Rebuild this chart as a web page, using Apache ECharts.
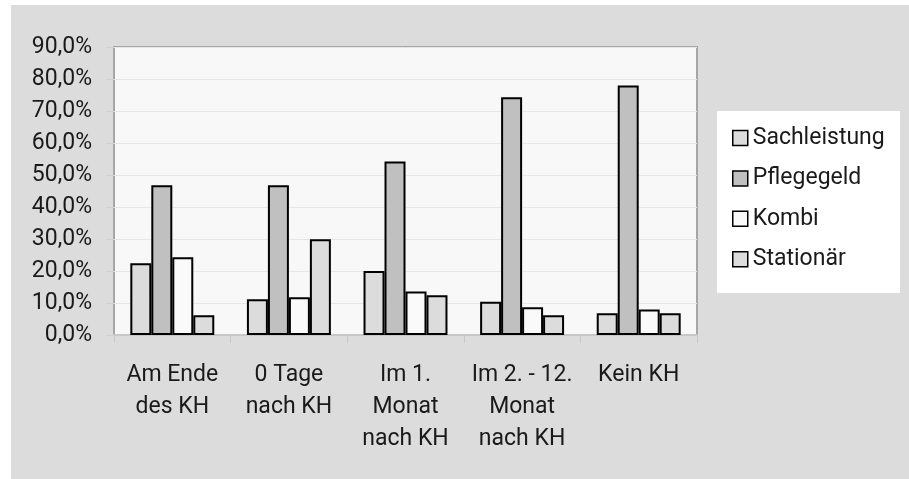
<!DOCTYPE html>
<html>
<head>
<meta charset="utf-8">
<script src="https://cdn.jsdelivr.net/npm/echarts@6/dist/echarts.min.js"></script>
<style>
  html, body { margin: 0; padding: 0; background: #ffffff; }
  #chart { width: 909px; height: 479px; }
</style>
</head>
<body>
<div id="chart"></div>
<script>
// Kategorien (Zeitpunkt relativ zum Krankenhausaufenthalt)
const categories = [
  'Am Ende\ndes KH',
  '0 Tage\nnach KH',
  'Im 1.\nMonat\nnach KH',
  'Im 2. - 12.\nMonat\nnach KH',
  'Kein KH'
];

// Anteile je Leistungsart in Prozent
const sachleistung = [22.4, 11.2, 20.0, 10.4, 6.8];
const pflegegeld   = [46.8, 46.8, 54.2, 74.3, 78.0];
const kombi        = [24.3, 11.8, 13.6, 8.7, 8.0];
const stationaer   = [6.2, 29.9, 12.4, 6.2, 6.8];

// Achsenbeschriftung der y-Achse
const yMin = 0;
const yMax = 90;
const yStep = 10;

const fontFamily = 'Roboto, "DejaVu Sans", sans-serif';
const fontSize = 23;
const textColor = '#1a1a1a';

const chart = echarts.init(document.getElementById('chart'), null, { renderer: 'canvas' });

function barSeries(name, data, color) {
  return {
    name: name,
    type: 'bar',
    data: data,
    barGap: '0%',
    barCategoryGap: '28%',
    itemStyle: { color: color, borderColor: '#000000', borderWidth: 2 },
    emphasis: { disabled: true }
  };
}

chart.setOption({
  animation: false,
  backgroundColor: '#ffffff',
  textStyle: { fontFamily: fontFamily },
  graphic: [
    {
      type: 'rect', z: -10, silent: true,
      shape: { x: 11, y: 5, width: 898, height: 474 },
      style: { fill: '#dcdcdc' }
    },
    {
      type: 'rect', z: -5, silent: true,
      shape: { x: 717, y: 111, width: 183, height: 182 },
      style: { fill: '#ffffff' }
    }
  ],
  grid: {
    left: 114, top: 47, right: 212, bottom: 144,
    show: true,
    backgroundColor: '#f8f8f8',
    borderColor: '#a6a6a6',
    borderWidth: 2
  },
  legend: {
    orient: 'vertical',
    left: 727,
    top: 121,
    itemWidth: 15,
    itemHeight: 15,
    itemGap: 16.4,
    icon: 'rect',
    textStyle: { fontFamily: fontFamily, fontSize: fontSize, color: textColor, lineHeight: 24 },
    itemStyle: { borderColor: '#000000', borderWidth: 1.5 },
    selectedMode: false
  },
  xAxis: {
    type: 'category',
    data: categories,
    axisLine: { show: true, lineStyle: { color: '#c8c8c8', width: 2 } },
    axisTick: { show: true, length: 8, alignWithLabel: false, lineStyle: { color: '#c8c8c8', width: 1 } },
    axisLabel: {
      interval: 0,
      margin: 24,
      fontSize: fontSize,
      lineHeight: 32,
      color: textColor,
      fontFamily: fontFamily
    },
    splitLine: { show: false }
  },
  yAxis: {
    type: 'value',
    min: yMin,
    max: yMax,
    interval: yStep,
    axisLine: { show: false },
    axisTick: { show: true, length: 8, lineStyle: { color: '#d0d0d0', width: 1 } },
    axisLabel: {
      margin: 22,
      fontSize: fontSize,
      color: textColor,
      fontFamily: fontFamily,
      formatter: v => v.toFixed(1).replace('.', ',') + '%'
    },
    splitLine: { show: true, lineStyle: { color: '#e6e6e6', width: 1 } }
  },
  series: [
    barSeries('Sachleistung', sachleistung, '#dcdcdc'),
    barSeries('Pflegegeld', pflegegeld, '#c0c0c0'),
    barSeries('Kombi', kombi, '#fafafa'),
    barSeries('Stationär', stationaer, '#dcdcdc')
  ]
});
</script>
</body>
</html>
